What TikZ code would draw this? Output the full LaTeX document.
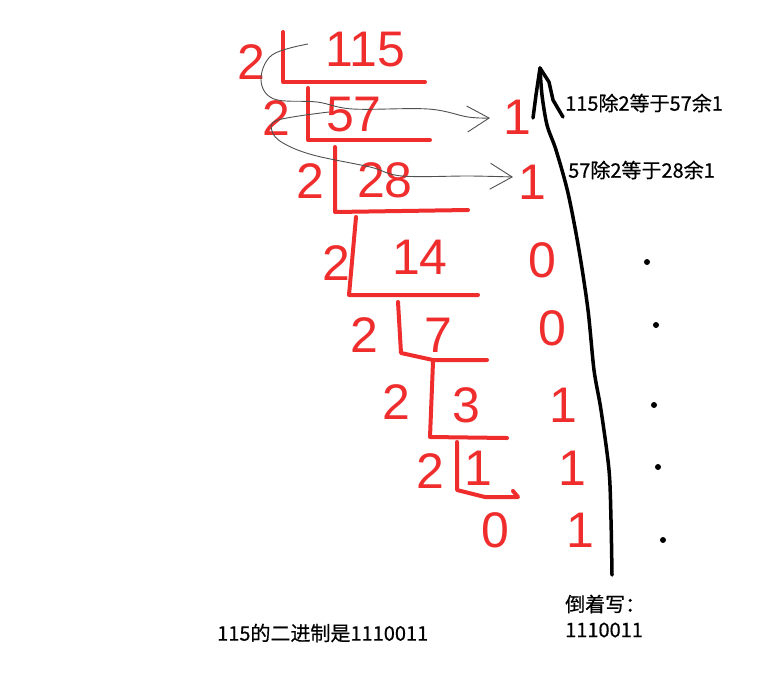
\documentclass[tikz,border=0pt]{standalone}
\usepackage{fontspec}
\newfontfamily\digitfont{Liberation Sans}
\newfontfamily\cjk[FakeBold=0.6]{Noto Sans CJK SC}
\usetikzlibrary{arrows.meta}
\definecolor{penred}{RGB}{240,45,45}
\definecolor{pengray}{RGB}{80,80,80}

\begin{document}
\begin{tikzpicture}[x=1pt, y=-1pt,
    digit/.style={text=penred, font=\digitfont\fontsize{50}{50}\selectfont, inner sep=0pt},
    bracket/.style={draw=penred, line width=4pt, line cap=round, line join=round},
    grayarc/.style={draw=pengray, line width=0.9pt, -{Straight Barb[length=22pt,width=26pt]}},
    pen/.style={draw=black, line width=3.5pt, line cap=round, line join=round},
    note/.style={font=\cjk\fontsize{20}{20}\selectfont, anchor=west, inner sep=0pt},
    dot/.style={circle, fill=black, inner sep=0pt, minimum size=6pt}]

    \useasboundingbox (0,0) rectangle (757,678);

    % Divisors and quotients
    \node[digit] (d1) at (251,62) {2};
    \node[digit] (q1) at (365,50) {115};
    \node[digit] (d2) at (276,118) {2};
    \node[digit] (q2) at (354,115) {57};
    \node[digit] (d3) at (310,181) {2};
    \node[digit] (q3) at (385,180) {28};
    \node[digit] (d4) at (336,263) {2};
    \node[digit] (q4) at (420,257) {14};
    \node[digit] (d5) at (364,335) {2};
    \node[digit] (q5) at (438,335) {7};
    \node[digit] (d6) at (396,402) {2};
    \node[digit] (q6) at (466,405) {3};
    \node[digit] (d7) at (430,471) {2};
    \node[digit] (q7) at (478,468) {1};
    \node[digit] (q8) at (495,530) {0};

    % Remainders
    \node[digit] (r1) at (517,117) {1};
    \node[digit] (r2) at (532,182) {1};
    \node[digit] (r3) at (542,260) {0};
    \node[digit] (r4) at (552,328) {0};
    \node[digit] (r5) at (563,405) {1};
    \node[digit] (r6) at (572,468) {1};
    \node[digit] (r7) at (580,530) {1};

    % Division brackets
    \draw[bracket] (283,32) -- (283,82) -- (425,82);
    \draw[bracket] (308,88) -- (308,140) -- (430,140);
    \draw[bracket] (335,147) -- (335,212) -- (468,210);
    \draw[bracket] (356,217) -- (349,295) -- (478,295);
    \draw[bracket] (398,302) -- (401,353) -- (433,360) -- (487,360);
    \draw[bracket] (433,362) -- (430,437) -- (507,438);
    \draw[bracket] (457,442) -- (457,490) -- (485,497) -- (518,497) -- (513,491);

    % Thin arcs to the first remainders
    \coordinate (s1) at (308,44);
    \coordinate (e1) at (490,118);
    \coordinate (s2) at (329,112);
    \coordinate (e2) at (513,177);
    \draw[grayarc] plot[smooth, tension=0.6] coordinates
        {(s1) (272,55) (261,80) (274,99) (317,102) (353,109) (428,109) (468,117) (e1)};
    \draw[grayarc] plot[smooth, tension=0.6] coordinates
        {(s2) (278,120) (272,131) (283,143) (313,155) (370,167) (402,176) (470,176) (e2)};

    % Read-upwards arrow
    \coordinate (up0) at (612,575);
    \coordinate (tip) at (540,68);
    \draw[pen] plot[smooth] coordinates
        {(up0) (611,520) (609,470) (601,410) (594,370) (588,310) (579,250) (568,193) (556,150) (547,125) (542,95) (tip)};
    \draw[pen] (tip) -- (536,95) -- (533,118);
    \draw[pen] (tip) -- (549,82) -- (553,100) -- (563,117);

    % Dots
    \foreach \p [count=\i] in {(647,262),(656,325),(654,405),(658,467),(663,540)}
        \node[dot] (dot\i) at \p {};

    % Notes
    \node[note] (n1) at (565,103) {115除2等于57余1};
    \node[note] (n2) at (568,170) {57除2等于28余1};
    \node[note] (n3) at (565,604) {倒着写：};
    \node[note] (n4) at (565,630) {1110011};
    \node[note] (n5) at (217,633) {115的二进制是1110011};

\end{tikzpicture}
\end{document}
